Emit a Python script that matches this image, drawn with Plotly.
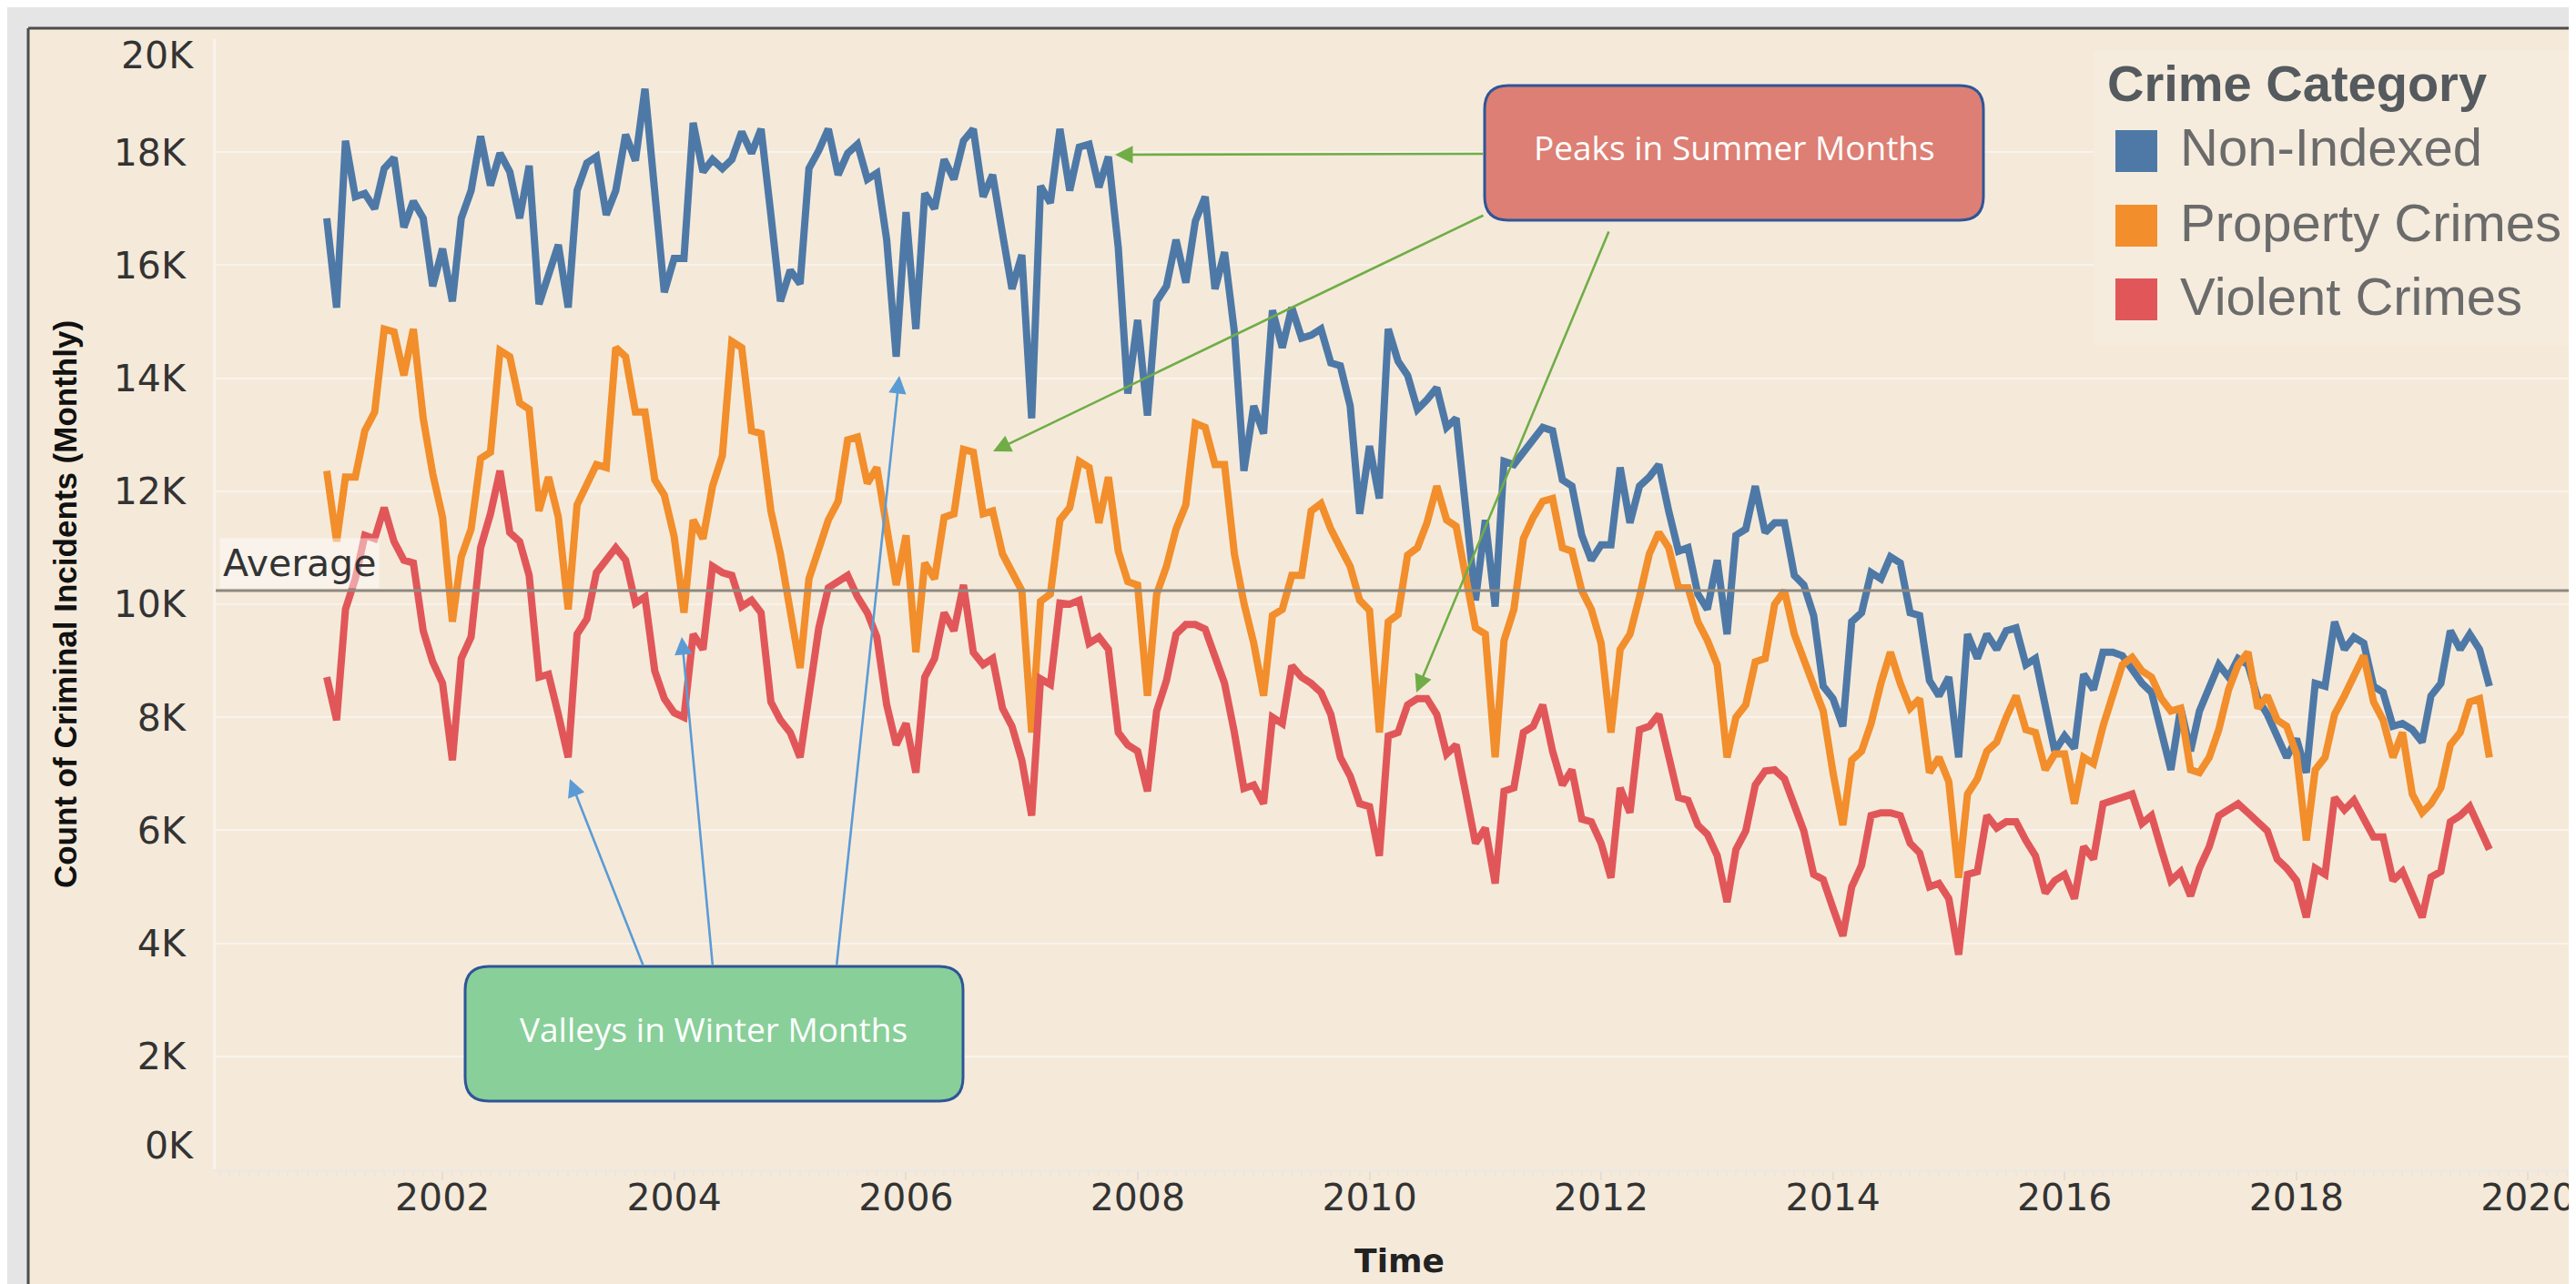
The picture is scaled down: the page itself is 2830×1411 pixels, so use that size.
import pandas as pd
import plotly.graph_objects as go

# ---------------- data (values in thousands of incidents per month) ----------------
START_MONTH = "2001-01-01"
CATEGORIES = ["Non-Indexed", "Property Crimes", "Violent Crimes"]
COLORS = ["#4e79a7", "#f28e2b", "#e15759"]

non_indexed_k = [
    16.83, 15.25, 18.20, 17.21, 17.27, 17.00, 17.71, 17.90, 16.67, 17.13, 16.83, 15.63,  # 2001
    16.29, 15.36, 16.83, 17.32, 18.28, 17.41, 17.98, 17.65, 16.83, 17.76, 15.31, 15.85,  # 2002
    16.36, 15.25, 17.32, 17.81, 17.92, 16.89, 17.32, 18.31, 17.85, 19.12, 17.21, 15.52,  # 2003
    16.12, 16.12, 18.52, 17.65, 17.87, 17.71, 17.87, 18.36, 17.98, 18.41, 16.89, 15.36,  # 2004
    15.91, 15.67, 17.71, 18.03, 18.41, 17.60, 17.98, 18.14, 17.52, 17.63, 16.45, 14.38,  # 2005
    16.94, 14.87, 17.27, 17.00, 17.87, 17.52, 18.20, 18.41, 17.21, 17.60, 16.56, 15.58,  # 2006
    16.18, 13.29, 17.40, 17.10, 18.41, 17.32, 18.09, 18.14, 17.38, 17.92, 16.31, 13.73,  # 2007
    15.03, 13.34, 15.36, 15.63, 16.45, 15.69, 16.78, 17.21, 15.58, 16.23, 14.82, 12.36,  # 2008
    13.51, 13.02, 15.20, 14.54, 15.25, 14.71, 14.76, 14.87, 14.27, 14.22, 13.51, 11.60,  # 2009
    12.80, 11.87, 14.87, 14.30, 14.05, 13.45, 13.62, 13.83, 13.13, 13.29, 11.65, 10.07,  # 2010
    11.49, 9.96, 12.53, 12.47, 12.69, 12.91, 13.13, 13.07, 12.20, 12.09, 11.22, 10.78,   # 2011
    11.05, 11.05, 12.42, 11.44, 12.09, 12.25, 12.47, 11.65, 10.94, 11.00, 10.18, 9.91,   # 2012
    10.78, 9.47, 11.22, 11.33, 12.09, 11.27, 11.44, 11.44, 10.51, 10.34, 9.80, 8.55,     # 2013
    8.33, 7.84, 9.69, 9.85, 10.56, 10.45, 10.84, 10.73, 9.85, 9.80, 8.65, 8.38,          # 2014
    8.71, 7.29, 9.47, 9.04, 9.47, 9.20, 9.53, 9.58, 8.93, 9.04, 8.16, 7.40,              # 2015
    7.67, 7.45, 8.76, 8.49, 9.15, 9.15, 9.09, 8.87, 8.60, 8.44, 7.73, 7.07,              # 2016
    8.16, 7.40, 8.11, 8.49, 8.93, 8.71, 9.04, 8.93, 8.33, 8.05, 7.67, 7.29,              # 2017
    7.62, 7.02, 8.60, 8.55, 9.69, 9.20, 9.42, 9.31, 8.55, 8.44, 7.84, 7.89,              # 2018
    7.78, 7.56, 8.38, 8.60, 9.53, 9.20, 9.47, 9.20, 8.55,                                # 2019
]

property_k = [
    12.36, 11.11, 12.25, 12.25, 13.07, 13.40, 14.87, 14.82, 14.05, 14.87, 13.29, 12.31,  # 2001
    11.54, 9.69, 10.84, 11.33, 12.58, 12.69, 14.49, 14.38, 13.56, 13.45, 11.65, 12.25,   # 2002
    11.54, 9.91, 11.76, 12.09, 12.47, 12.42, 14.54, 14.38, 13.40, 13.40, 12.20, 11.93,   # 2003
    11.20, 9.85, 11.49, 11.16, 12.09, 12.63, 14.65, 14.54, 13.07, 13.02, 11.65, 10.89,   # 2004
    9.80, 8.87, 10.45, 11.00, 11.49, 11.82, 12.91, 12.96, 12.14, 12.42, 11.44, 10.34,    # 2005
    11.22, 9.15, 10.73, 10.45, 11.54, 11.60, 12.74, 12.69, 11.60, 11.65, 10.89, 10.56,   # 2006
    10.24, 7.73, 10.05, 10.18, 11.49, 11.71, 12.53, 12.42, 11.44, 12.25, 10.94, 10.40,   # 2007
    10.34, 8.38, 10.18, 10.67, 11.33, 11.76, 13.20, 13.13, 12.47, 12.47, 10.89, 10.02,   # 2008
    9.31, 8.38, 9.80, 9.91, 10.51, 10.51, 11.65, 11.78, 11.33, 11.00, 10.67, 10.07,      # 2009
    9.89, 7.73, 9.69, 9.82, 10.87, 11.00, 11.44, 12.09, 11.49, 11.38, 10.45, 9.58,       # 2010
    9.47, 7.29, 9.36, 9.91, 11.16, 11.54, 11.82, 11.87, 11.00, 10.94, 10.24, 9.91,       # 2011
    9.31, 7.73, 9.20, 9.47, 10.13, 10.89, 11.27, 11.00, 10.29, 10.29, 9.69, 9.36,        # 2012
    8.93, 7.29, 8.00, 8.22, 8.98, 9.04, 10.00, 10.24, 9.47, 9.04, 8.60, 8.11,            # 2013
    7.02, 6.09, 7.24, 7.40, 7.89, 8.60, 9.15, 8.60, 8.16, 8.33, 7.02, 7.29,              # 2014
    6.86, 5.16, 6.64, 6.91, 7.40, 7.56, 8.00, 8.38, 7.78, 7.73, 7.07, 7.35,              # 2015
    7.35, 6.47, 7.29, 7.18, 7.84, 8.38, 8.93, 9.06, 8.82, 8.71, 8.33, 8.11,              # 2016
    8.16, 7.07, 7.02, 7.29, 7.78, 8.49, 8.93, 9.15, 8.16, 8.38, 7.95, 7.84,              # 2017
    7.35, 5.82, 7.07, 7.29, 8.05, 8.38, 8.71, 9.09, 8.27, 7.95, 7.29, 7.73,              # 2018
    6.64, 6.31, 6.47, 6.75, 7.51, 7.73, 8.27, 8.33, 7.29,                                # 2019
]

violent_k = [
    8.71, 7.95, 9.91, 10.45, 11.22, 11.16, 11.71, 11.11, 10.78, 10.73, 9.53, 8.98,       # 2001
    8.60, 7.24, 9.04, 9.42, 11.00, 11.60, 12.36, 11.27, 11.11, 10.51, 8.71, 8.76,        # 2002
    8.05, 7.29, 9.47, 9.74, 10.56, 10.78, 11.00, 10.78, 10.02, 10.13, 8.82, 8.33,        # 2003
    8.08, 8.00, 9.47, 9.20, 10.67, 10.56, 10.51, 9.96, 10.07, 9.85, 8.27, 7.95,          # 2004
    7.73, 7.29, 8.38, 9.58, 10.29, 10.40, 10.51, 10.13, 9.85, 9.42, 8.22, 7.51,          # 2005
    7.89, 7.02, 8.71, 9.04, 9.85, 9.53, 10.34, 9.15, 8.93, 9.04, 8.16, 7.84,             # 2006
    7.24, 6.26, 8.68, 8.58, 10.02, 10.00, 10.07, 9.31, 9.42, 9.20, 7.73, 7.51,           # 2007
    7.40, 6.69, 8.11, 8.65, 9.47, 9.64, 9.64, 9.56, 9.09, 8.60, 7.73, 6.74,              # 2008
    6.80, 6.47, 8.00, 7.89, 8.91, 8.71, 8.60, 8.44, 8.05, 7.29, 6.96, 6.47,              # 2009
    6.42, 5.55, 7.67, 7.73, 8.22, 8.33, 8.33, 8.05, 7.35, 7.51, 6.64, 5.77,              # 2010
    6.04, 5.06, 6.69, 6.75, 7.73, 7.84, 8.22, 7.40, 6.80, 7.07, 6.20, 6.15,              # 2011
    5.77, 5.16, 6.75, 6.31, 7.78, 7.84, 8.05, 7.35, 6.58, 6.53, 6.09, 5.93,              # 2012
    5.55, 4.73, 5.66, 5.99, 6.80, 7.05, 7.07, 6.91, 6.42, 5.99, 5.22, 5.13,              # 2013
    4.62, 4.13, 5.00, 5.38, 6.26, 6.31, 6.31, 6.26, 5.77, 5.60, 5.00, 5.06,              # 2014
    4.79, 3.80, 5.22, 5.27, 6.26, 6.04, 6.15, 6.15, 5.82, 5.55, 4.89, 5.11,              # 2015
    5.22, 4.79, 5.71, 5.49, 6.47, 6.53, 6.58, 6.64, 6.12, 6.26, 5.66, 5.11,              # 2016
    5.27, 4.84, 5.33, 5.71, 6.26, 6.36, 6.47, 6.31, 6.15, 5.99, 5.49, 5.33,              # 2017
    5.11, 4.46, 5.33, 5.22, 6.58, 6.36, 6.53, 6.20, 5.88, 5.88, 5.11, 5.27,              # 2018
    4.89, 4.46, 5.17, 5.27, 6.15, 6.26, 6.42, 6.04, 5.66,                                # 2019
]

AVERAGE_K = 10.24                      # value of the "Average" reference line
Y_TICKS_K = list(range(0, 21, 2))      # 0K .. 20K
X_TICK_YEARS = list(range(2002, 2021, 2))

# ---------------- geometry helpers (layout only) ----------------
W, H = 2830, 1411
L, R, T, B = 229, 2830, 35, 1277      # plot-area pixel box


def px(x):
    return (x - L) / (R - L)


def py(y):
    return (B - y) / (B - T)


def rounded_rect(x0, y0, x1, y1, r):
    pts = [
        ("M", [(x0 + r, y0)]), ("L", [(x1 - r, y0)]), ("Q", [(x1, y0), (x1, y0 + r)]),
        ("L", [(x1, y1 - r)]), ("Q", [(x1, y1), (x1 - r, y1)]), ("L", [(x0 + r, y1)]),
        ("Q", [(x0, y1), (x0, y1 - r)]), ("L", [(x0, y0 + r)]), ("Q", [(x0, y0), (x0 + r, y0)]),
    ]
    out = ""
    for cmd, ps in pts:
        out += cmd + " ".join(f"{px(a):.5f},{py(b):.5f}" for a, b in ps) + " "
    return out + "Z"


BEIGE = "#f5eada"
TICK_FONT = dict(family="DejaVu Sans", size=41, color="#333333")

months = pd.date_range(START_MONTH, periods=len(non_indexed_k), freq="MS")
series = [non_indexed_k, property_k, violent_k]

fig = go.Figure()
for name, color, vals in zip(CATEGORIES, COLORS, series):
    fig.add_trace(go.Scatter(
        x=months, y=[v * 1000 for v in vals], mode="lines", name=name,
        line=dict(color=color, width=8), showlegend=False,
        hovertemplate="%{x|%b %Y}<br>%{y:,.0f}<extra>" + name + "</extra>",
    ))

y_tickvals = [v * 1000 for v in Y_TICKS_K]
y_ticktext = ["" if v in (Y_TICKS_K[0], Y_TICKS_K[-1]) else f"{v}K" for v in Y_TICKS_K]

fig.update_layout(
    width=W, height=H,
    margin=dict(l=L, r=W - R, t=T, b=H - B, autoexpand=False),
    paper_bgcolor=BEIGE, plot_bgcolor=BEIGE,
    xaxis=dict(
        type="date", range=["2000-01-17", "2020-06-23"],
        tickvals=[f"{y}-01-01" for y in X_TICK_YEARS], ticktext=[str(y) for y in X_TICK_YEARS],
        showgrid=False, zeroline=False, showline=True, linecolor="#eee8e0", linewidth=3,
        ticks="outside", ticklen=9, tickwidth=2, tickcolor="#e3ddd5",
        minor=dict(ticks="outside", ticklen=4, tickcolor="#ebe5dd", dtick="M1", showgrid=False),
        tickfont=TICK_FONT, ticklabelstandoff=-16, automargin=False,
        title=dict(text="<b>Time</b>", font=dict(family="DejaVu Sans", size=36, color="#222222"), standoff=34),
    ),
    yaxis=dict(
        range=[0, 20000], tickvals=y_tickvals, ticktext=y_ticktext,
        showgrid=True, gridcolor="#f8f3ec", gridwidth=2, zeroline=False,
        showline=True, linecolor="#f8f3ec", linewidth=3, ticks="",
        tickfont=TICK_FONT, ticklabelstandoff=22, automargin=False,
        title=dict(text="<b>Count of Criminal Incidents (Monthly)</b>",
                   font=dict(family="Liberation Sans Narrow, Liberation Sans", size=35, color="#111111"),
                   standoff=30),
    ),
    font=dict(family="DejaVu Sans"),
)

shapes = []
# outer frame (gray window border)
shapes.append(dict(type="rect", xref="paper", yref="paper", x0=px(0), x1=px(W), y0=py(0), y1=py(22),
                   fillcolor="#e5e5e5", line=dict(width=0), layer="above"))
shapes.append(dict(type="rect", xref="paper", yref="paper", x0=px(0), x1=px(22), y0=py(0), y1=py(H),
                   fillcolor="#e5e5e5", line=dict(width=0), layer="above"))
shapes.append(dict(type="line", xref="paper", yref="paper", x0=px(23), x1=px(W), y0=py(23), y1=py(23),
                   line=dict(color="#4d4d4d", width=3), layer="above"))
shapes.append(dict(type="line", xref="paper", yref="paper", x0=px(23), x1=px(23), y0=py(23), y1=py(H),
                   line=dict(color="#4d4d4d", width=3), layer="above"))
# average reference line
shapes.append(dict(type="line", xref="paper", yref="y", x0=0, x1=1, y0=AVERAGE_K * 1000, y1=AVERAGE_K * 1000,
                   line=dict(color="#8e8980", width=3), layer="above"))
# legend card
shapes.append(dict(type="rect", xref="paper", yref="paper", x0=px(2292), x1=px(W), y0=py(48), y1=py(372),
                   fillcolor="#f6ecdd", line=dict(width=0), layer="above"))
LEG_Y = [158, 240, 321]
for c, yc in zip(COLORS, LEG_Y):
    shapes.append(dict(type="rect", xref="paper", yref="paper", x0=px(2316), x1=px(2362),
                       y0=py(yc - 23), y1=py(yc + 23), fillcolor=c, line=dict(width=0), layer="above"))
# callout boxes
shapes.append(dict(type="path", xref="paper", yref="paper", path=rounded_rect(1623, 86, 2171, 234, 26),
                   fillcolor="#dd7f74", line=dict(color="#2f5597", width=3), layer="above"))
shapes.append(dict(type="path", xref="paper", yref="paper", path=rounded_rect(503, 1054, 1050, 1202, 26),
                   fillcolor="#88cf99", line=dict(color="#2f5597", width=3), layer="above"))
fig.update_layout(shapes=shapes)

ann = []
# extreme y tick labels (drawn inside the axis range like the original)
ann.append(dict(text=f"{Y_TICKS_K[-1]}K", xref="paper", yref="y", x=0, y=y_tickvals[-1], xanchor="right",
                yanchor="middle", xshift=-22, yshift=-18, showarrow=False, font=TICK_FONT))
ann.append(dict(text=f"{Y_TICKS_K[0]}K", xref="paper", yref="y", x=0, y=y_tickvals[0], xanchor="right",
                yanchor="middle", xshift=-22, yshift=26, showarrow=False, font=TICK_FONT))
# average label
ann.append(dict(text="Average", xref="paper", yref="y", x=0, y=AVERAGE_K * 1000, xanchor="left", yanchor="bottom",
                xshift=4, yshift=2, showarrow=False, bgcolor="rgba(255,255,255,0.45)", borderpad=3,
                font=dict(family="DejaVu Sans", size=41, color="#333333")))
# callout texts
BOX_FONT = dict(family="Open Sans", size=37, color="#ffffff")
ann.append(dict(text="Peaks in Summer Months", xref="paper", yref="paper", x=px(1897), y=py(154),
                xanchor="center", yanchor="middle", showarrow=False, font=BOX_FONT))
ann.append(dict(text="Valleys in Winter Months", xref="paper", yref="paper", x=px(776), y=py(1122),
                xanchor="center", yanchor="middle", showarrow=False, font=BOX_FONT))
# arrows (head, tail) in pixels
green = [((1217, 162), (1623, 161)), ((1083, 488), (1623, 228)), ((1548, 753), (1760, 245))]
blue = [((618, 848), (699, 1054)), ((741, 692), (775, 1054)), ((980, 405), (911, 1054))]
for color, arrows in (("#70ad47", green), ("#5b9bd5", blue)):
    for (hx, hy), (tx, ty) in arrows:
        ann.append(dict(text="", xref="paper", yref="paper", x=px(hx), y=py(hy),
                        ax=tx - hx, ay=ty - hy, showarrow=True, arrowhead=2, arrowsize=1.5,
                        arrowwidth=2.6, arrowcolor=color, standoff=0, startstandoff=0))
# legend text
ann.append(dict(text="<b>Crime Category</b>", xref="paper", yref="paper", x=px(2305), y=py(84),
                xanchor="left", yanchor="middle", showarrow=False,
                font=dict(family="Liberation Sans", size=56, color="#555a5e")))
for name, yc in zip(CATEGORIES, LEG_Y):
    ann.append(dict(text=name, xref="paper", yref="paper", x=px(2385), y=py(yc - 4),
                    xanchor="left", yanchor="middle", showarrow=False,
                    font=dict(family="Liberation Sans", size=58, color="#6b6b6b")))
fig.update_layout(annotations=ann)

fig.write_html("out.html")
